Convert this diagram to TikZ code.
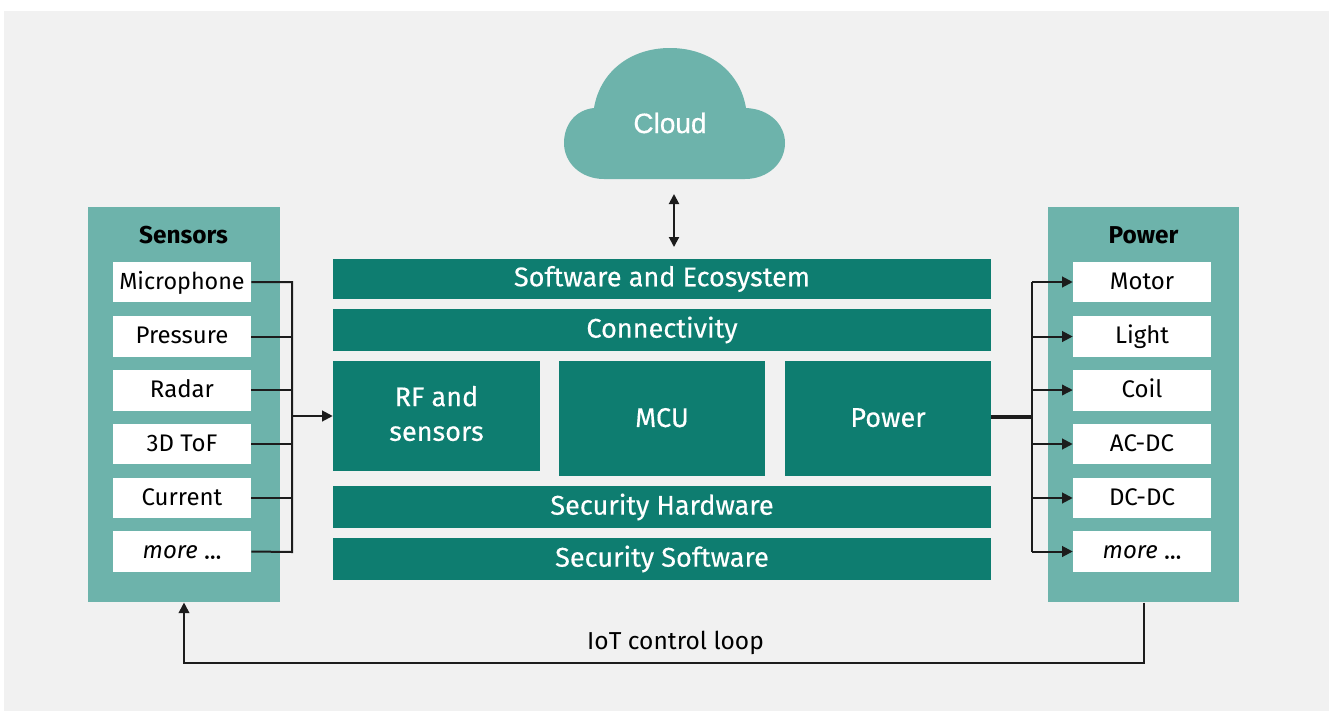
\documentclass[tikz,border=0pt]{standalone}
\usepackage{fontspec}
\setmainfont{Fira Sans}[FakeBold=0.35]
\newfontfamily\plainfont{Fira Sans}
\newfontfamily\cloudfont{Liberation Sans}[FakeBold=0.5]
\usetikzlibrary{arrows.meta}
\definecolor{pagebg}{HTML}{F1F1F1}
\definecolor{panelc}{HTML}{6DB3AB}
\definecolor{darkc}{HTML}{0E7D70}
\definecolor{inkc}{HTML}{1C1C1C}
\tikzset{
  x=0.75pt,y=-0.75pt,
  panel/.style={fill=panelc,draw=none,inner sep=0pt,anchor=north west},
  block/.style={fill=darkc,draw=none,inner sep=0pt,text=white,align=center,font=\fontsize{20.3}{26}\selectfont},
  item/.style={fill=white,draw=none,inner sep=0pt,text=black,minimum width=103.5pt,text height=13.6pt,text depth=3pt,font=\plainfont\fontsize{18}{20}\selectfont},
  title/.style={text=black,inner sep=0pt,font=\plainfont\fontsize{18.3}{20}\selectfont\bfseries},
  wire/.style={draw=inkc,line width=1.5pt},
  thinwire/.style={draw=inkc,line width=1pt},
  tip/.style={-{Triangle[length=8pt,width=8pt]}},
}
\newcommand{\blockbox}[6]{\node[block,minimum width=#3*0.75pt,minimum height=#4*0.75pt] (#5) at (#1,#2) {#6};}
\begin{document}
\begin{tikzpicture}
\useasboundingbox (0,0) rectangle (1331,711);
\fill[white] (0,0) rectangle (1331,711);
\fill[pagebg] (4,11) rectangle (1329,711);
% cloud
\fill[panelc] (594,108) .. controls (600,72) and (630,48) .. (670,48)
  .. controls (710,48) and (740,72) .. (746,108)
  .. controls (770,109) and (785,125) .. (785,143)
  .. controls (785,163) and (768,179) .. (745,179)
  -- (604,179) .. controls (581,179) and (564,163) .. (564,143)
  .. controls (564,125) and (575,110) .. (594,108) -- cycle;
\node[inner sep=0pt,text=white,font=\fontsize{21}{24}\cloudfont] (cloud) at (670,123) {Cloud};
\coordinate (cloudport) at (674,194);
% panels
\node[panel,minimum width=144pt,minimum height=296.25pt] (sensors) at (88,207) {};
\node[panel,minimum width=143.25pt,minimum height=296.25pt] (powerp) at (1048,207) {};
\node[title] (senst) at (183.5,235) {Sensors};
\node[title] (powt) at (1143.5,235) {Power};
% items
\foreach \nm/\cy/\h/\txt in {a/282/40/{\fontsize{17.5}{20}\selectfont Microphone},b/336.5/41/Pressure,c/390/41/Radar,d/444/40/3D ToF,e/498/40/Current,f/551.5/41/{\itshape more\normalfont\ ...}}{
  \node[item,minimum height=\h*0.75pt] (s\nm) at (182,\cy) {\txt};
}
\foreach \nm/\cy/\h/\txt in {a/282/40/Motor,b/336.5/41/Light,c/390/41/Coil,d/444/40/AC-DC,e/498/40/DC-DC,f/551.5/41/{\itshape more\normalfont\ ...}}{
  \node[item,minimum height=\h*0.75pt] (p\nm) at (1142,\cy) {\txt};
}
% centre
\blockbox{662}{279}{658}{40}{soft}{Software and Ecosystem}
\blockbox{662}{330}{658}{42}{conn}{Connectivity}
\node[block,minimum width=207*0.75pt,minimum height=110*0.75pt,text depth=4pt] (rf) at (436.5,416) {RF and\\sensors};
\blockbox{662}{418.5}{206}{115}{mcu}{\raisebox{1.5pt}{MCU}}
\blockbox{888}{418.5}{206}{115}{pow}{\raisebox{1.5pt}{Power}}
\blockbox{662}{507}{658}{42}{sechw}{Security Hardware}
\blockbox{662}{559}{658}{42}{secsw}{Security Software}
% cloud arrow
\coordinate (softport) at (674,247);
\draw[wire,{Triangle[length=7.5pt,width=7.5pt]}-{Triangle[length=7.5pt,width=7.5pt]}] (cloudport) -- (softport);
% sensors bus
\coordinate (lb1) at (292,282);
\coordinate (lb2) at (292,552);
\coordinate (lbm) at (292,416);
\draw[wire] (sa.east) -- (lb1) -- (lb2) -- (sf.east);
\draw[wire] (sb.east) -- (sb.east -| lb1);
\draw[thinwire] (sc.east) -- (sc.east -| lb1);
\draw[wire] (sd.east) -- (sd.east -| lb1);
\draw[wire] (se.east) -- (se.east -| lb1);
\draw[wire,tip] (lbm) -- (rf.west |- lbm);
% power bus
\coordinate (rb1) at (1032,282);
\coordinate (rb2) at (1032,551.5);
\draw[wire] (rb1) -- (rb2);
\draw[wire,line width=2.4pt] (pow.east |- 0,417) -- (1032,417);
\foreach \nm in {a,b,d,e,f}{ \draw[wire,tip] (p\nm.west -| rb1) -- (p\nm.west); }
\draw[thinwire,tip] (pc.west -| rb1) -- (pc.west);
% loop
\coordinate (loopr) at (1144,663);
\coordinate (loopl) at (184,663);
\draw[wire,tip] (powerp.south west -| loopr) -- (loopr) -- (loopl) -- (sensors.south west -| loopl);
\node[inner sep=0pt,text=black,font=\plainfont\fontsize{18.4}{20}\selectfont] (looplab) at (675.5,643) {IoT control loop};
\end{tikzpicture}
\end{document}
